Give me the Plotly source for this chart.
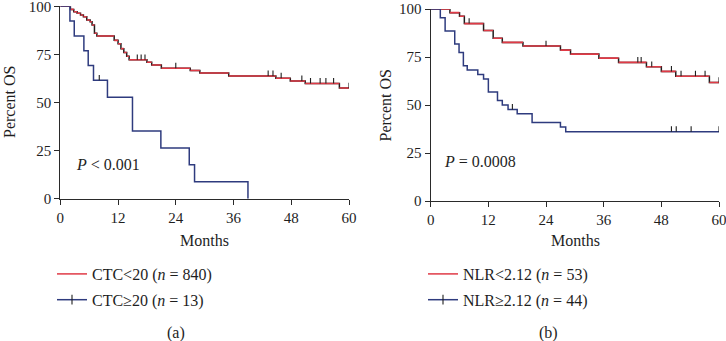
import plotly.graph_objects as go

# ---------------- data ----------------
month_ticks = [0, 12, 24, 36, 48, 60]
pct_ticks = [0, 25, 50, 75, 100]

# Panel (a): CTC
ctc_low_name = "CTC&lt;20 (<i>n</i> = 840)"
ctc_low_t = [2.1, 2.8, 3.5, 4.2, 4.8, 5.5, 6.2, 6.6, 7.1, 7.6, 11.2, 12.0, 12.6, 13.2, 13.8, 14.3,
             18.0, 19.0, 21.0, 27.0, 29.0, 35.0, 44.8, 47.8, 50.9, 58.0]
ctc_low_s = [98.4, 97.2, 96.4, 95.5, 94.6, 92.9, 92.0, 90.3, 86.0, 84.6, 82.3, 80.5, 78.0, 76.0, 74.0, 72.2,
             70.9, 69.5, 67.8, 66.6, 65.3, 63.8, 62.6, 61.2, 59.9, 57.5]
ctc_low_cens = [16.0, 16.8, 17.6, 24.0, 43.2, 44.2, 45.9, 50.2, 52.0, 54.0, 55.2, 56.8, 60.0]
ctc_low_end = 60.0

ctc_high_name = "CTC≥20 (<i>n</i> = 13)"
ctc_high_t = [2.0, 2.9, 4.9, 5.8, 6.9, 9.8, 15.0, 20.9, 26.8, 27.9, 39.0]
ctc_high_s = [92.3, 84.6, 76.9, 69.2, 61.5, 52.7, 35.2, 26.4, 17.6, 8.8, 0.0]
ctc_high_cens = [8.1]
ctc_high_end = 39.0

# Panel (b): NLR
nlr_low_name = "NLR&lt;2.12 (<i>n</i> = 53)"
nlr_low_t = [4.0, 6.0, 7.0, 11.0, 13.0, 14.9, 19.2, 27.0, 29.1, 35.0, 39.1, 44.9, 48.0, 51.0, 58.0]
nlr_low_s = [98.1, 96.2, 92.4, 88.8, 84.8, 82.6, 80.7, 78.6, 76.5, 74.4, 72.2, 69.9, 67.5, 65.0, 61.7]
nlr_low_cens = [3.0, 8.0, 24.0, 43.1, 43.8, 46.0, 50.1, 52.1, 55.1, 57.1, 60.0]
nlr_low_end = 60.0

nlr_high_name = "NLR≥2.12 (<i>n</i> = 44)"
nlr_high_t = [2.0, 3.0, 5.0, 5.9, 6.8, 7.6, 9.8, 11.0, 12.0, 13.9, 14.9, 16.1, 18.0, 21.1, 27.0, 28.1]
nlr_high_s = [95.5, 88.6, 81.8, 77.3, 70.5, 68.2, 65.9, 63.6, 56.8, 52.3, 50.0, 47.7, 45.5, 40.9, 38.6, 36.1]
nlr_high_cens = [17.0, 50.1, 51.1, 54.2, 60.0]
nlr_high_end = 60.0

p_text_a = "<i>P</i> &lt; 0.001"
p_text_b = "<i>P</i> = 0.0008"

# ---------------- style ----------------
RED = "#e03a46"
BLUE = "#2e3b7e"
DARK = "#1e1e1e"
FONT = "Liberation Serif"
TICK_UP = 2.8


def step_xy(t, s, end):
    xs = [0.0] + list(t) + [end]
    ys = [100.0] + list(s) + [s[-1]]
    return xs, ys


def horiz_xy(t, s, end):
    knots = [0.0] + list(t) + [end]
    vals = [100.0] + list(s)
    xs, ys = [], []
    for i, v in enumerate(vals):
        xs += [knots[i], knots[i + 1], None]
        ys += [v, v, None]
    return xs, ys


def surv_at(t, s, c):
    v = 100.0
    for ti, si in zip(t, s):
        if ti <= c:
            v = si
    return v


fig = go.Figure()


def add_curve(t, s, end, cens, color, xa, ya, two_tone):
    xs, ys = step_xy(t, s, end)
    fig.add_trace(go.Scatter(x=xs, y=ys, mode="lines", line=dict(shape="hv", color=DARK if two_tone else color, width=1.5),
                             xaxis=xa, yaxis=ya, showlegend=False, hoverinfo="skip", cliponaxis=False))
    if two_tone:
        hx, hy = horiz_xy(t, s, end)
        fig.add_trace(go.Scatter(x=hx, y=hy, mode="lines", line=dict(color=color, width=1.6),
                                 xaxis=xa, yaxis=ya, showlegend=False, hoverinfo="skip", cliponaxis=False))
    cy = [surv_at(t, s, c) for c in cens]
    fig.add_trace(go.Scatter(x=cens, y=cy, mode="markers", marker=dict(size=1, color="rgba(0,0,0,0)"),
                             error_y=dict(type="data", symmetric=False, array=[TICK_UP] * len(cens),
                                          arrayminus=[0] * len(cens), width=0, thickness=1.1, color=DARK),
                             xaxis=xa, yaxis=ya, showlegend=False, hoverinfo="skip", cliponaxis=False))


add_curve(ctc_low_t, ctc_low_s, ctc_low_end, ctc_low_cens, RED, "x", "y", True)
add_curve(ctc_high_t, ctc_high_s, ctc_high_end, ctc_high_cens, BLUE, "x", "y", False)
add_curve(nlr_low_t, nlr_low_s, nlr_low_end, nlr_low_cens, RED, "x2", "y2", True)
add_curve(nlr_high_t, nlr_high_s, nlr_high_end, nlr_high_cens, BLUE, "x2", "y2", False)

# legend entries
for name, color, lg, grp, tick in [
    (ctc_low_name, RED, "legend", "a1", False),
    (ctc_high_name, BLUE, "legend", "a2", True),
    (nlr_low_name, RED, "legend2", "b1", False),
    (nlr_high_name, BLUE, "legend2", "b2", True),
]:
    fig.add_trace(go.Scatter(
        x=[None], y=[None], name=name, legend=lg, legendgroup=grp,
        mode="lines+markers" if tick else "lines",
        line=dict(color=color, width=1.5),
        marker=dict(symbol="line-ns", size=7, line=dict(width=1.1, color=DARK)),
        xaxis="x" if lg == "legend" else "x2", yaxis="y" if lg == "legend" else "y2",
    ))

W, H = 726, 341

axis_common = dict(
    showline=True, linecolor="#2a2a2a", linewidth=1.3, ticks="outside", ticklen=5, tickwidth=1.3,
    tickcolor="#2a2a2a", showgrid=False, zeroline=False, tickfont=dict(family=FONT, size=15, color=DARK),
    fixedrange=True, automargin=False, ticklabeloverflow="allow",
)

fig.update_layout(
    width=W, height=H, autosize=False, margin=dict(l=0, r=0, t=0, b=0, autoexpand=False),
    paper_bgcolor="white", plot_bgcolor="white",
    font=dict(family=FONT, color=DARK),
    xaxis=dict(domain=[60.3 / W, 349 / W], range=[0, 60], tickvals=month_ticks, anchor="y", **axis_common),
    yaxis=dict(domain=[1 - 198.7 / H, 1 - 6.3 / H], range=[0, 100], tickvals=pct_ticks, anchor="x", **axis_common),
    xaxis2=dict(domain=[430.7 / W, 719 / W], range=[0, 60], tickvals=month_ticks, anchor="y2", **axis_common),
    yaxis2=dict(domain=[1 - 201 / H, 1 - 9 / H], range=[0, 100], tickvals=pct_ticks, anchor="x2", **axis_common),
    legend=dict(x=52 / W, y=1 - 257 / H, xanchor="left", yanchor="top", bgcolor="rgba(0,0,0,0)",
                font=dict(family=FONT, size=16, color=DARK), tracegroupgap=2, traceorder="grouped",
                itemwidth=30),
    legend2=dict(x=423 / W, y=1 - 257 / H, xanchor="left", yanchor="top", bgcolor="rgba(0,0,0,0)",
                 font=dict(family=FONT, size=16, color=DARK), tracegroupgap=2, traceorder="grouped",
                 itemwidth=30),
    showlegend=True,
)

ann_font = dict(family=FONT, size=16, color=DARK)
fig.add_annotation(x=2.8, y=18, xref="x", yref="y", text=p_text_a, showarrow=False, xanchor="left",
                   yanchor="middle", font=ann_font)
fig.add_annotation(x=2.3, y=20.5, xref="x2", yref="y2", text=p_text_b, showarrow=False, xanchor="left",
                   yanchor="middle", font=ann_font)
# axis titles and panel labels
for x, y, txt, ang in [
    (204.5, 240, "Months", 0), (575, 240, "Months", 0),
    (9.5, 102.5, "Percent OS", -90), (385.5, 105, "Percent OS", -90),
    (176, 333, "(a)", 0), (548, 333, "(b)", 0),
]:
    fig.add_annotation(x=x / W, y=1 - y / H, xref="paper", yref="paper", text=txt, showarrow=False,
                       xanchor="center", yanchor="middle", textangle=ang, font=ann_font)

fig.write_html("out.html", config={"displayModeBar": False},
               post_script="document.body.style.margin='0';document.body.style.overflow='hidden';")
